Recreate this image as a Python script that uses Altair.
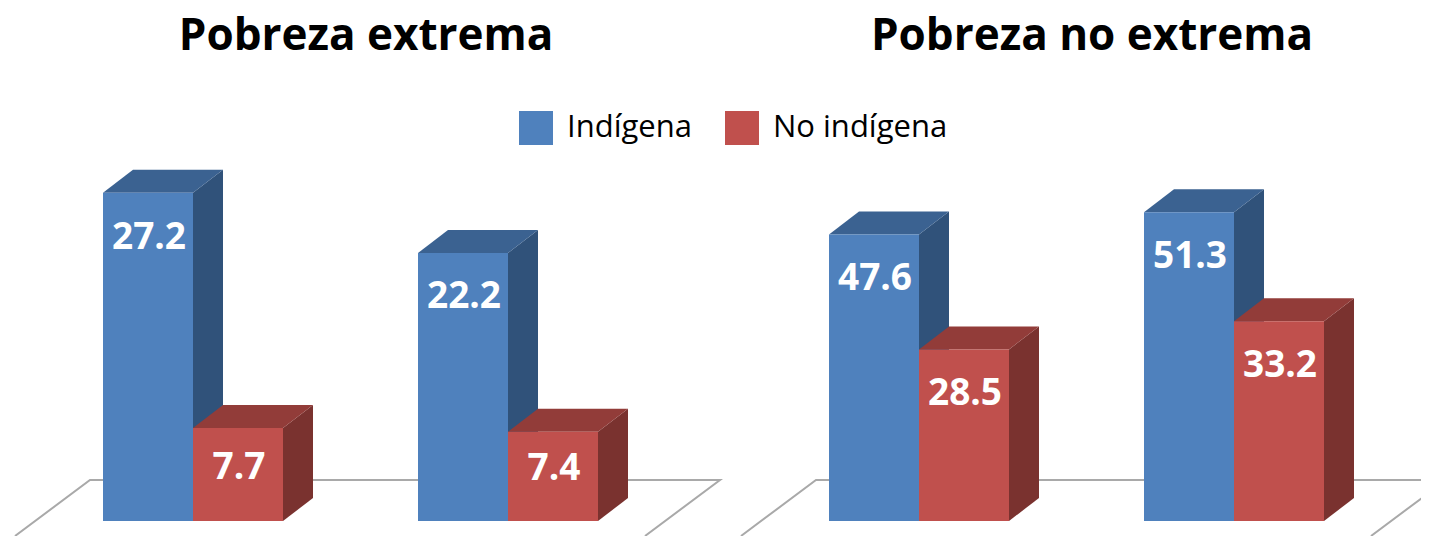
import altair as alt
import pandas as pd

panels = ["Pobreza extrema", "Pobreza no extrema"]
series = ["Indígena", "No indígena"]
groups = [0, 1]
values_extrema = [[27.2, 7.7], [22.2, 7.4]]
values_no_extrema = [[47.6, 28.5], [51.3, 33.2]]
label_shift_extrema = [[45, 40], [44, 37]]
label_shift_no_extrema = [[45, 45], [45, 45]]

front = ["#4F81BD", "#C0504D"]
top = ["#3B6291", "#923C39"]
side = ["#30527A", "#7A322F"]
FONT = "Open Sans"

PLOT_H = 528
UNIT = 90.0          # pixels per bar width
FIRST = 95 / UNIT
STEP = 3.5
DX = 30 / UNIT
DY_PX = 23
BASE_PX = 513
FLOOR_X = [7, 82, 712, 637]
FLOOR_Y_PX = [528, 472, 472, 528]


def panel(title, values, shifts, width, ppu):
    dy = DY_PX / ppu
    rows = []
    for g in groups:
        for s, name in enumerate(series):
            left = FIRST + g * STEP + s
            rows.append(dict(g=g, s=name, left=left, right=left + 1, v=values[g][s],
                             shift=shifts[g][s], label=f"{values[g][s]:.1f}"))
    fr = pd.DataFrame(rows)
    sides, tops = [], []
    for r in rows:
        key = f"{r['g']}-{r['s']}"
        sides += [dict(k=key, s=r["s"], x=r["right"], y=r["v"], y2=0),
                  dict(k=key, s=r["s"], x=r["right"] + DX, y=r["v"] + dy, y2=dy)]
        tops += [dict(k=key, s=r["s"], y=r["v"], x=r["left"], x2=r["right"]),
                 dict(k=key, s=r["s"], y=r["v"] + dy, x=r["left"] + DX, x2=r["right"] + DX)]
    sd, tp = pd.DataFrame(sides), pd.DataFrame(tops)

    xs = alt.Scale(domain=[0, width / UNIT], nice=False, zero=False)
    ys = alt.Scale(domain=[(BASE_PX - PLOT_H) / ppu, BASE_PX / ppu], nice=False, zero=False)
    X = alt.X("x:Q", scale=xs, axis=None)
    Y = alt.Y("y:Q", scale=ys, axis=None, stack=None)

    floor = pd.DataFrame({"x": [p / UNIT for p in FLOOR_X],
                          "y": [(BASE_PX - p) / ppu for p in FLOOR_Y_PX],
                          "o": [0, 1, 2, 3]})
    floor_l = alt.Chart(floor).mark_line(color="#A9A9A9", strokeWidth=2, clip=True).encode(
        x=X, y=Y, order="o:Q")

    layers = [floor_l]
    for i, name in enumerate(series):
        sd_i = sd[sd.s == name]
        tp_i = tp[tp.s == name]
        fr_i = fr[fr.s == name]
        layers.append(alt.Chart(sd_i).mark_area(color=side[i], clip=True).encode(
            x=X, y=Y, y2="y2:Q", detail="k:N"))
        layers.append(alt.Chart(tp_i).mark_area(color=top[i], orient="horizontal", clip=True).encode(
            x=X, x2="x2:Q", y=Y, detail="k:N"))
        layers.append(alt.Chart(fr_i).mark_rect(clip=True).encode(
            x=alt.X("left:Q", scale=xs, axis=None),
            x2="right:Q",
            y=alt.Y("v:Q", scale=ys, axis=None),
            y2=alt.Y2(datum=0),
            color=alt.Color("s:N",
                            scale=alt.Scale(domain=series, range=front),
                            legend=alt.Legend(title=None, orient="none", legendX=511, legendY=103,
                                              direction="horizontal", columns=2, columnPadding=33,
                                              symbolType="square", symbolSize=1156,
                                              symbolStrokeWidth=0, symbolOpacity=1,
                                              labelFont=FONT, labelFontSize=31, labelColor="#000000",
                                              labelOffset=14, labelLimit=300))))
    fr2 = fr.assign(mid=fr.left + 0.5)
    for sh in sorted(fr2["shift"].unique()):
        layers.append(alt.Chart(fr2[fr2["shift"] == sh]).mark_text(
            font=FONT, fontWeight=700, fontSize=37, color="white",
            baseline="middle", align="center", dx=1, dy=int(sh)).encode(
            x=alt.X("mid:Q", scale=xs, axis=None),
            y=alt.Y("v:Q", scale=ys, axis=None),
            text="label:N"))
    head = pd.DataFrame({"t": [title]})
    layers.append(alt.Chart(head).mark_text(font=FONT, fontWeight=700, fontSize=44, color="black",
                                            baseline="middle", align="center").encode(
        x=alt.value(358), y=alt.value(29), text="t:N"))
    return alt.layer(*layers).properties(width=width, height=PLOT_H)


left = panel(panels[0], values_extrema, label_shift_extrema, 726, 12.07)
right = panel(panels[1], values_no_extrema, label_shift_no_extrema, 687, 6.02)

chart = alt.hconcat(left, right, spacing=0, padding=0, bounds="flush").configure_view(stroke=None)
chart.save("out.html", embed_options={"renderer": "svg", "actions": False})
